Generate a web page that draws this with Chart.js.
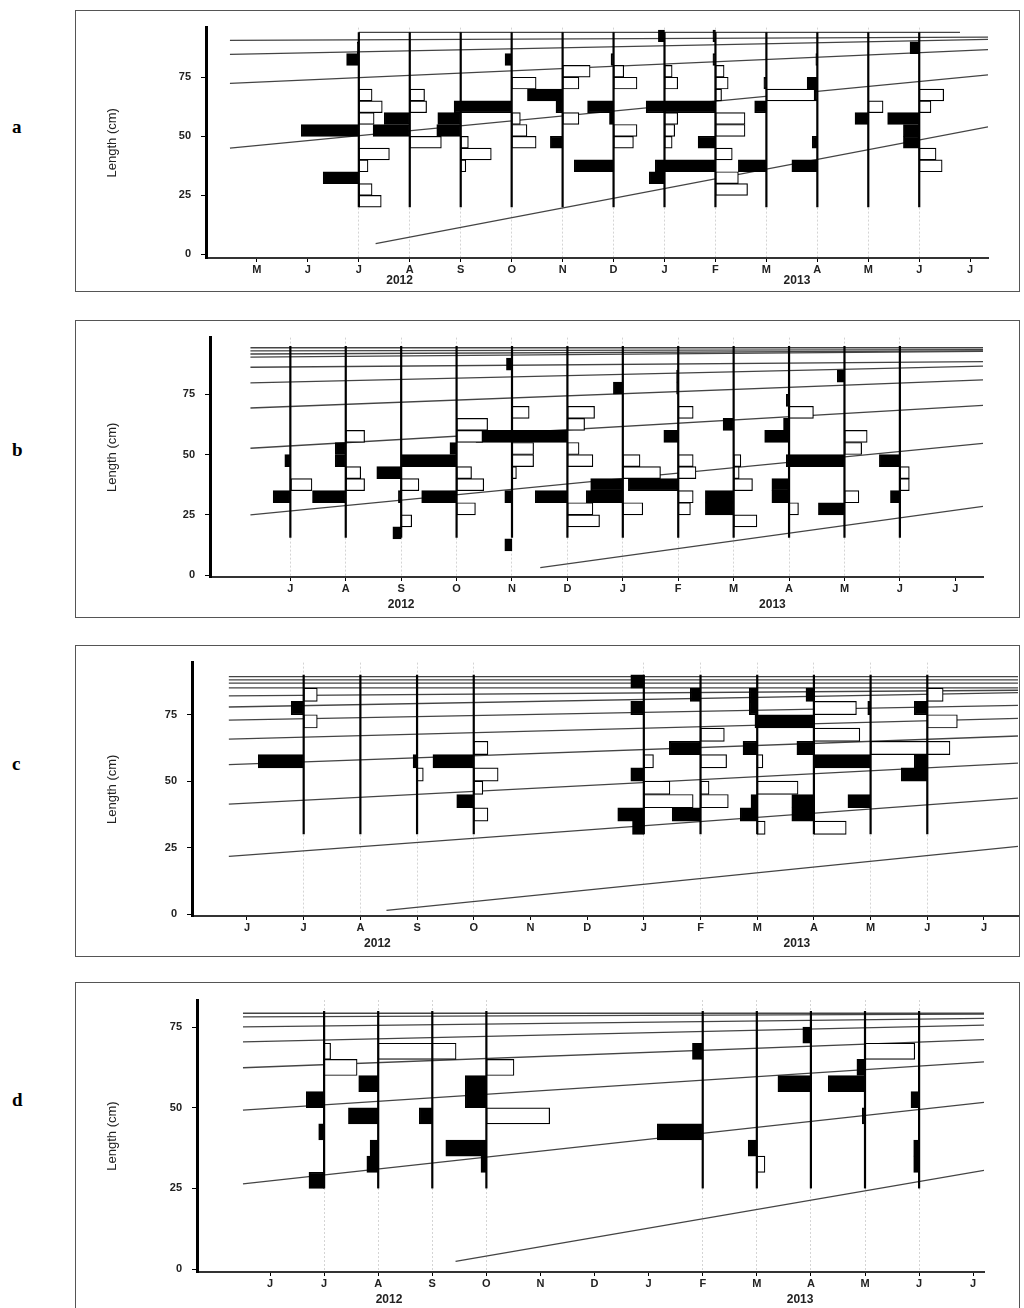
<!DOCTYPE html>
<html>
<head>
<meta charset="utf-8">
<script src="https://cdn.jsdelivr.net/npm/chart.js@4.4.1/dist/chart.umd.min.js"></script>
<style>
  body { margin:0; background:#fff; width:1024px; height:1308px; position:relative; overflow:hidden; }
  .box { position:absolute; left:75px; width:945px; border:1px solid #555; box-sizing:border-box; }
  .lt { position:absolute; left:12px; font:bold 19px "Liberation Serif", "DejaVu Serif", serif; }
</style>
</head>
<body>
<div class="lt" style="top:116px">a</div>
<div class="lt" style="top:439px">b</div>
<div class="lt" style="top:753px">c</div>
<div class="lt" style="top:1089px">d</div>
<div class="box" style="top:10px;height:282px"><canvas id="cA" width="943" height="280"></canvas></div>
<div class="box" style="top:320px;height:298px"><canvas id="cB" width="943" height="296"></canvas></div>
<div class="box" style="top:645px;height:312px"><canvas id="cC" width="943" height="310"></canvas></div>
<div class="box" style="top:982px;height:330px"><canvas id="cD" width="943" height="328"></canvas></div>
<script>
// month ticks, sample months, bars per sample [bin lower (cm), width in months: - black left, + white right], growth curves [x0,L0,x1,L1]
const aMonths = ['M','J','J','A','S','O','N','D','J','F','M','A','M','J','J'];
const aYears = [['2012', 2.8], ['2013', 10.6]];
const aSamples = [2,3,4,5,6,7,8,9,10,11,12,13];
const aBars = [
  [[85,-0.03],[80,-0.24],[65,0.26],[60,0.46],[55,0.3],[50,-1.13],[40,0.6],[35,0.18],[30,-0.7],[25,0.26],[20,0.44]],
  [[65,0.29],[60,0.33],[55,-0.5],[50,-0.72],[45,0.62]],
  [[55,-0.45],[50,-0.47],[45,0.15],[40,0.6],[35,0.1]],
  [[80,-0.13],[70,0.48],[60,-1.13],[55,0.17],[50,0.3],[45,0.48]],
  [[75,0.54],[70,0.32],[65,-0.69],[60,-0.13],[55,0.32],[45,-0.24]],
  [[80,-0.05],[75,0.2],[70,0.46],[60,-0.51],[55,-0.08],[50,0.46],[45,0.39],[35,-0.77]],
  [[90,-0.12],[75,0.15],[70,0.26],[60,-0.36],[55,0.26],[50,0.2],[45,0.15],[35,-0.18],[30,-0.3]],
  [[90,-0.05],[80,-0.05],[75,0.17],[70,0.25],[65,0.12],[60,-1.0],[55,0.58],[50,0.58],[45,-0.34],[40,0.33],[35,-1.0],[30,0.45],[25,0.63]],
  [[70,-0.05],[65,0.95],[60,-0.23],[35,-0.55]],
  [[80,-0.03],[70,-0.2],[65,-0.04],[45,-0.1],[35,-0.5]],
  [[60,0.29],[55,-0.26]],
  [[85,-0.18],[65,0.48],[60,0.23],[55,-0.62],[50,-0.31],[45,-0.31],[40,0.33],[35,0.45]]
];
const aCurves = [[2,94,13.8,94],[-0.53,90.6,14.35,92],[-0.53,84.7,14.35,91],[-0.53,72.4,14.35,86.7],[-0.53,45,14.35,76],[2.33,4.6,14.35,54]];

const bMonths = ['J','A','S','O','N','D','J','F','M','A','M','J','J'];
const bYears = [['2012', 2.0], ['2013', 8.7]];
const bSamples = [0,1,2,3,4,5,6,7,8,9,10,11];
const bBars = [
  [[45,-0.1],[35,0.39],[30,-0.31]],
  [[55,0.34],[50,-0.19],[45,-0.19],[40,0.27],[35,0.34],[30,-0.6]],
  [[40,-0.44],[35,0.32],[30,-0.05],[20,0.19],[15,-0.15]],
  [[60,0.56],[55,0.47],[50,-0.12],[45,-1.0],[40,0.27],[35,0.49],[30,-0.63],[25,0.34]],
  [[85,-0.1],[65,0.31],[50,0.39],[45,0.39],[40,0.08],[30,-0.13],[10,-0.13]],
  [[65,0.49],[60,0.31],[55,-1.65],[50,0.21],[45,0.46],[30,-0.58],[25,0.46],[20,0.58]],
  [[75,-0.17],[45,0.31],[40,0.68],[35,-0.58],[30,-0.66],[25,0.36]],
  [[80,-0.03],[75,-0.03],[65,0.27],[55,-0.26],[45,0.27],[40,0.32],[35,-0.9],[30,0.27],[25,0.22]],
  [[60,-0.19],[45,0.13],[40,0.1],[35,0.34],[30,-0.51],[25,-0.51],[20,0.42]],
  [[70,-0.05],[65,0.44],[60,-0.1],[55,-0.44],[35,-0.31],[30,-0.31],[25,0.17]],
  [[80,-0.13],[55,0.41],[50,0.31],[45,-1.05],[30,0.26],[25,-0.47]],
  [[45,-0.37],[40,0.17],[35,0.17],[30,-0.17]]
];
const bCurves = [[-0.72,94.3,12.5,94.3],[-0.72,93,12.5,93.5],[-0.72,91.7,12.5,93],[2.4,95,2.4,95],[-0.72,90.4,12.5,92.8],[-0.72,86.2,12.5,88.5],
  [-0.72,79.7,12.5,86.7],[-0.72,69.3,12.5,81],[-0.72,52.6,12.5,70.4],[-0.72,25,12.5,54.6],[4.51,3.1,12.5,28.5]];

const cMonths = ['J','J','A','S','O','N','D','J','F','M','A','M','J','J'];
const cYears = [['2012', 2.3], ['2013', 9.7]];
const cSamples = [1,2,3,4,7,8,9,10,11,12];
const cBars = [
  [[80,0.24],[75,-0.22],[70,0.24],[55,-0.8]],
  [],
  [[55,-0.07],[50,0.11]],
  [[60,0.25],[55,-0.72],[50,0.43],[45,0.16],[40,-0.3],[35,0.25]],
  [[85,-0.23],[75,-0.23],[55,0.17],[50,-0.23],[45,0.46],[40,0.87],[35,-0.46],[30,-0.2]],
  [[80,-0.18],[65,0.42],[60,-0.55],[55,0.46],[45,0.15],[40,0.49],[35,-0.5]],
  [[80,-0.14],[75,-0.14],[60,-0.25],[55,0.1],[45,0.72],[40,-0.11],[35,-0.3],[30,0.14]],
  [[80,-0.14],[75,0.75],[70,-1.04],[65,0.81],[60,-0.3],[40,-0.39],[35,-0.39],[30,0.57]],
  [[75,-0.05],[60,1.4],[55,-1.0],[40,-0.4]],
  [[80,0.28],[75,-0.23],[70,0.53],[55,-0.23],[50,-0.46]]
];
const cCurves = [[-0.32,89.3,13.6,89.3],[-0.32,88.1,13.6,88.1],[-0.32,86.9,13.6,86.9],[-0.32,85.1,13.6,85.1],[-0.32,82.1,13.6,84.2],
  [-0.32,77.9,13.6,83.3],[-0.32,73,13.6,78.5],[-0.32,65.8,13.6,73.6],[-0.32,56.2,13.6,67],[-0.32,41.4,13.6,56.8],[-0.32,21.7,13.6,43.6],[2.46,1.4,13.6,25.5]];

const dMonths = ['J','J','A','S','O','N','D','J','F','M','A','M','J','J'];
const dYears = [['2012', 2.2], ['2013', 9.8]];
const dSamples = [1,2,3,4,8,9,10,11,12];
const dBars = [
  [[65,0.12],[60,0.61],[50,-0.33],[40,-0.1],[25,-0.28]],
  [[65,1.44],[55,-0.36],[45,-0.55],[35,-0.15],[30,-0.21]],
  [[45,-0.24]],
  [[60,0.51],[55,-0.39],[50,-0.39],[45,1.17],[35,-0.75],[30,-0.1]],
  [[65,-0.19],[40,-0.84]],
  [[35,-0.16],[30,0.15]],
  [[70,-0.15],[55,-0.61]],
  [[65,0.92],[60,-0.15],[55,-0.68],[45,-0.05]],
  [[50,-0.15],[35,-0.1],[30,-0.1]]
];
const dCurves = [[-0.5,79.3,13.2,79.3],[-0.5,78.2,13.2,79],[-0.5,75.1,13.2,77.7],[-0.5,70.4,13.2,75.6],[-0.5,62.4,13.2,71.1],
  [-0.5,49.3,13.2,64.2],[-0.5,26.4,13.2,51.7],[3.43,2.4,13.2,30.6]];

const FONT = '"Liberation Sans", Arial, sans-serif';

function panel(id, months, years, samples, bars, curves, o) {
  const black = [], white = [];
  samples.forEach((s, i) => {
    bars[i].forEach(([lo, w]) => {
      if (w < 0) black.push({ y: lo + 2.5, x: [s + w, s] });
      else white.push({ y: lo + 2.5, x: [s, s + w] });
    });
  });
  const ds = [];
  curves.forEach(c => ds.push({ type: 'line', indexAxis: 'x', order: 3, data: [{x:c[0],y:c[1]},{x:c[2],y:c[3]}],
    borderColor: '#444', borderWidth: 1.3, pointRadius: 0, fill: false }));
  const barBase = { type: 'bar', indexAxis: 'y', order: 2, grouped: false, barPercentage: 1, categoryPercentage: 1,
    borderColor: '#000', borderWidth: 1.2, borderSkipped: false };
  ds.push(Object.assign({}, barBase, { data: white, backgroundColor: '#fff' }));
  ds.push(Object.assign({}, barBase, { data: black, backgroundColor: '#000' }));
  samples.forEach(s => ds.push({ type: 'line', indexAxis: 'x', order: 1, data: [{x:s,y:o.lo},{x:s,y:o.hi}],
    borderColor: '#000', borderWidth: 2.2, pointRadius: 0, fill: false }));

  const deco = {
    id: 'deco',
    afterDraw(ch) {
      const c = ch.ctx, xs = ch.scales.x, a = ch.chartArea;
      c.save();
      c.fillStyle = '#222';
      c.font = 'bold 12px ' + FONT;
      c.textAlign = 'center';
      years.forEach(([t, v]) => c.fillText(t, xs.getPixelForValue(v), a.bottom + o.yearDy));
      c.translate(40, (a.top + a.bottom) / 2);
      c.rotate(-Math.PI / 2);
      c.font = '13px "Liberation Sans Narrow", ' + FONT;
      c.fillText('Length (cm)', 0, 0);
      c.restore();
    }
  };

  new Chart(document.getElementById(id), {
    type: 'bar',
    data: { datasets: ds },
    plugins: [deco],
    options: {
      responsive: false, animation: false, devicePixelRatio: 1,
      layout: { padding: { top: o.padTop, right: o.padRight, left: 0, bottom: 0 } },
      plugins: { legend: { display: false }, tooltip: { enabled: false } },
      scales: {
        x: {
          type: 'linear', offset: false, min: o.xMin, max: o.xMax,
          afterBuildTicks: s => { s.ticks = months.map((m, i) => ({ value: i })); },
          afterFit: s => { s.height = o.xH; },
          ticks: { callback: v => months[v], color: '#222', font: { family: FONT, size: 11, weight: 'bold' }, padding: 1, maxRotation: 0, autoSkip: false },
          grid: { offset: false, color: c => (c.tick && samples.includes(c.tick.value)) ? '#d4d4d4' : 'rgba(0,0,0,0)',
            tickColor: '#000', tickLength: 4, lineWidth: 1 },
          border: { color: '#333', width: 2, dash: [2, 2] }
        },
        y: {
          type: 'linear', offset: false, min: o.yMin, max: o.yMax,
          afterBuildTicks: s => { s.ticks = o.yTicks.map(v => ({ value: v })); },
          afterFit: s => { s.width = o.yW; },
          ticks: { color: '#222', font: { family: FONT, size: 11, weight: 'bold' }, padding: 10 },
          grid: { offset: false, drawOnChartArea: false, tickColor: '#000', tickLength: 5 },
          border: { color: '#000', width: 3 }
        }
      }
    }
  });
}

panel('cA', aMonths, aYears, aSamples, aBars, aCurves,
  { xMin: -1.0, xMax: 14.35, yMin: -1.5, yMax: 96, lo: 20, hi: 94, padTop: 8, padRight: 31, yW: 130, xH: 33, yearDy: 26, yTicks: [0,25,50,75] });
panel('cB', bMonths, bYears, bSamples, bBars, bCurves,
  { xMin: -1.45, xMax: 12.5, yMin: -0.8, yMax: 98.5, lo: 15.5, hi: 95, padTop: 7, padRight: 36, yW: 134, xH: 40, yearDy: 31, yTicks: [0,25,50,75] });
panel('cC', cMonths, cYears, cSamples, cBars, cCurves,
  { xMin: -0.97, xMax: 13.6, yMin: -0.7, yMax: 94.6, lo: 30, hi: 90, padTop: 6, padRight: 1, yW: 116, xH: 40, yearDy: 31, yTicks: [0,25,50,75] });
panel('cD', dMonths, dYears, dSamples, dBars, dCurves,
  { xMin: -1.35, xMax: 13.2, yMin: -0.9, yMax: 83.4, lo: 25, hi: 80, padTop: 17, padRight: 35, yW: 121, xH: 39, yearDy: 31, yTicks: [0,25,50,75] });
</script>
</body>
</html>
